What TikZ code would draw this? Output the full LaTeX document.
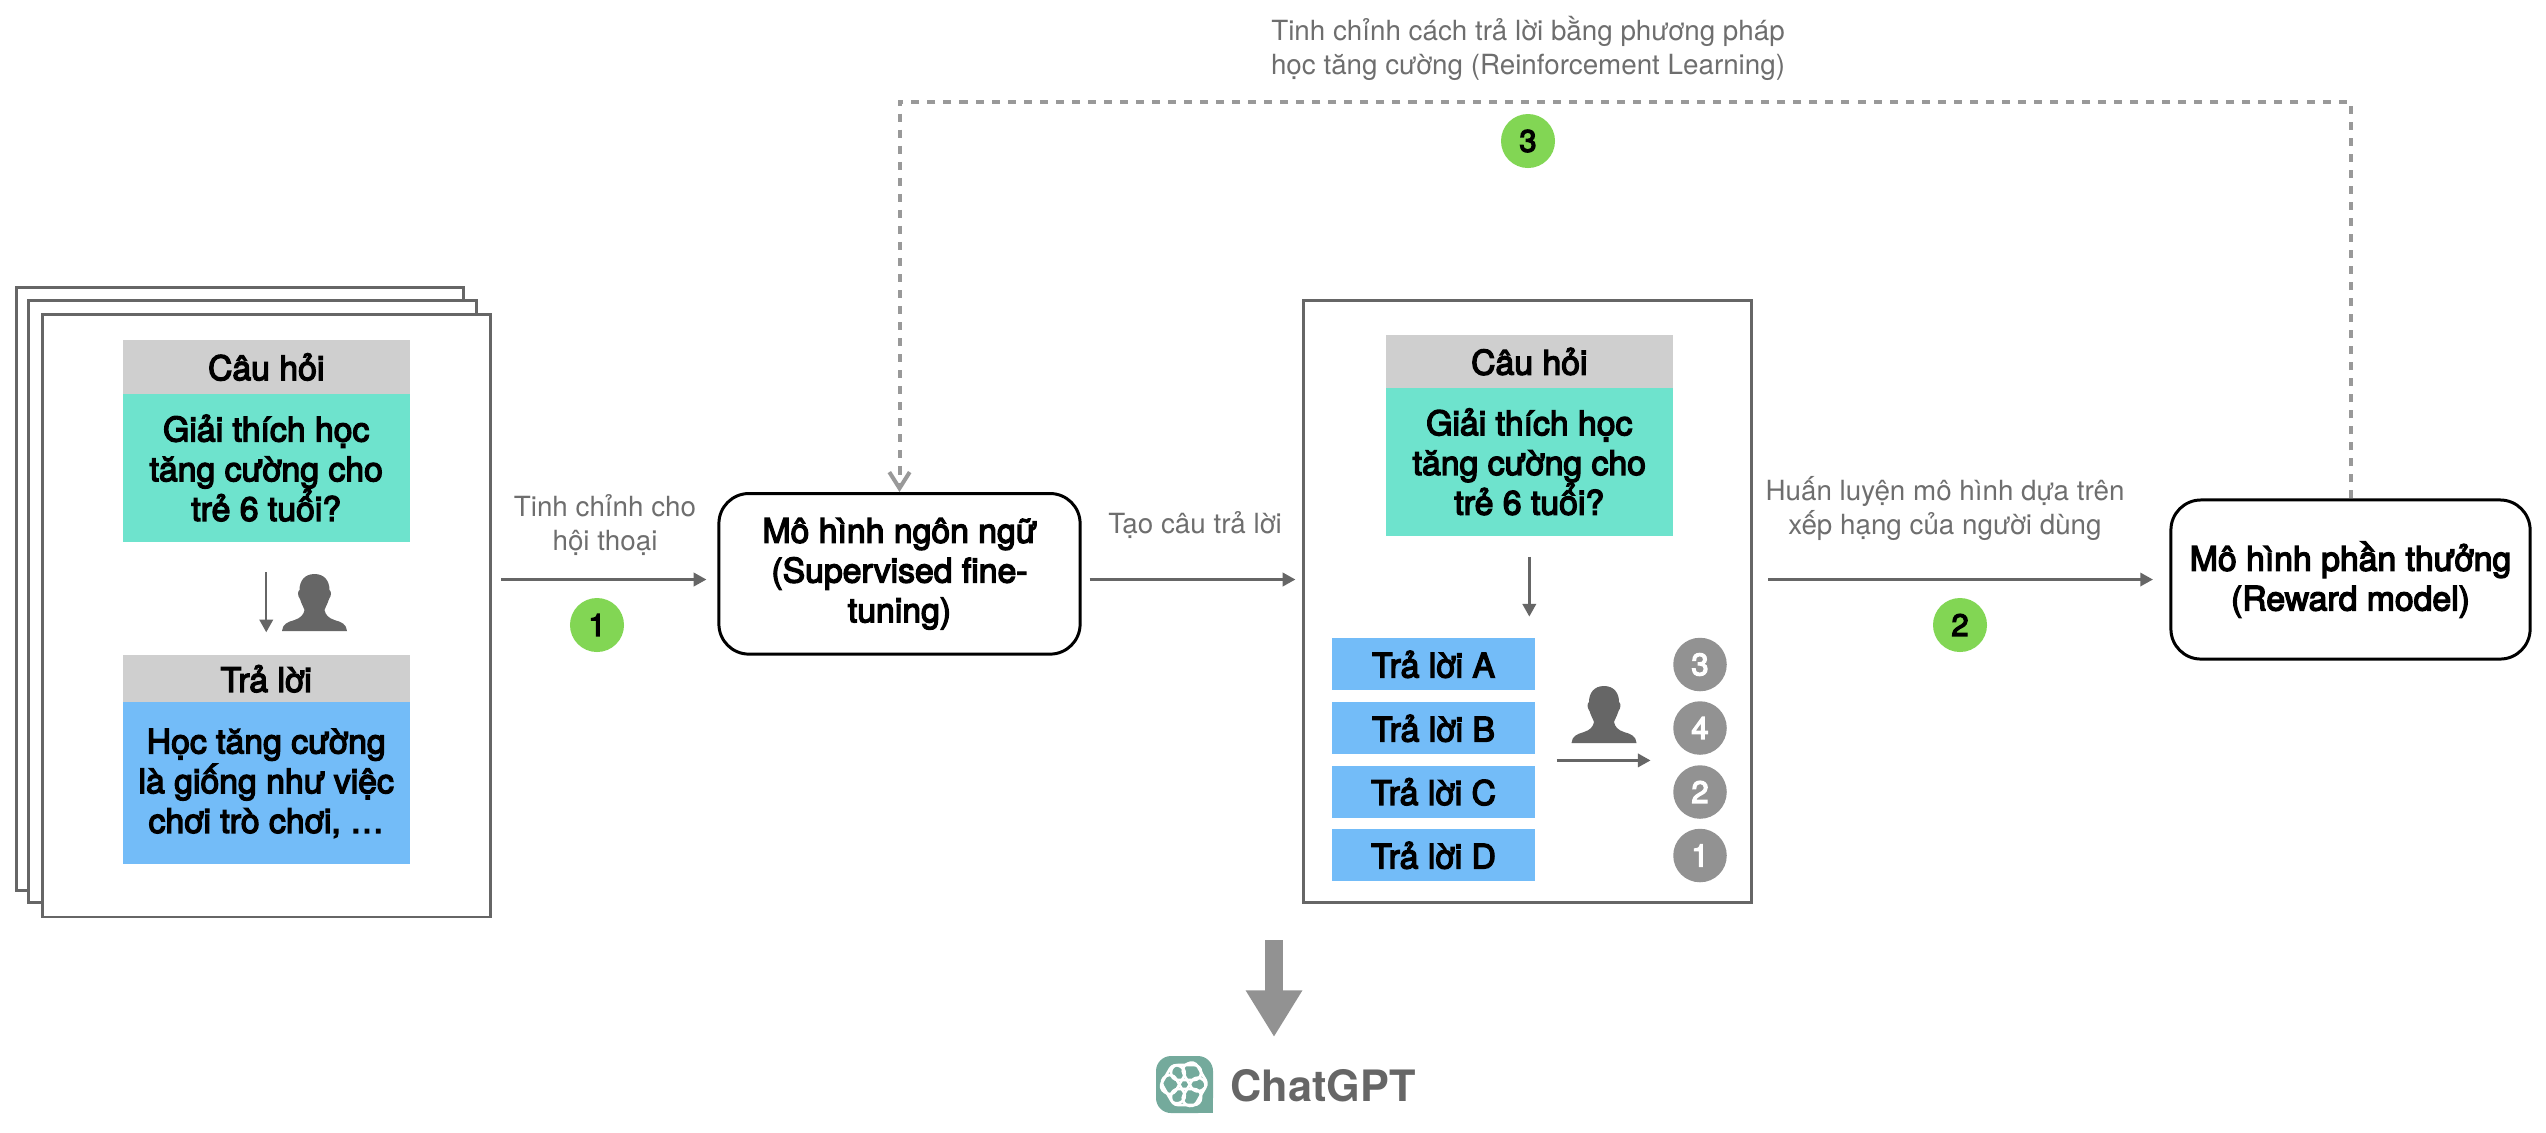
\documentclass[tikz,border=0pt]{standalone}
\usepackage{fontspec}
\setmainfont{TeX Gyre Heros}
\newfontfamily\medfont[FakeBold=4]{TeX Gyre Heros}
\usetikzlibrary{arrows.meta}
\definecolor{linegray}{HTML}{666666}
\definecolor{dashgray}{HTML}{999999}
\definecolor{labelgray}{HTML}{6E6E6E}
\definecolor{headgray}{HTML}{CFCFCF}
\definecolor{tealbox}{HTML}{6EE3CD}
\definecolor{bluebox}{HTML}{73BCF8}
\definecolor{greenmark}{HTML}{82D654}
\definecolor{graymark}{HTML}{929292}
\definecolor{gptgreen}{HTML}{74AA9C}
\tikzset{
  page/.style={draw=linegray,fill=white,line width=.85pt,minimum width=4.47cm,minimum height=6.02cm},
  boxtext/.style={font=\medfont\fontsize{9.6}{11.3}\selectfont,align=center,inner sep=0},
  qhead/.style={boxtext,fill=headgray,minimum width=2.865cm},
  qbody/.style={boxtext,fill=tealbox,minimum width=2.865cm,minimum height=1.48cm},
  abody/.style={boxtext,fill=bluebox,minimum width=2.865cm,minimum height=1.615cm},
  ans/.style={boxtext,fill=bluebox,minimum width=2.03cm,minimum height=.52cm},
  model/.style={boxtext,draw=black,fill=white,line width=.85pt,rounded corners=.3cm},
  lab/.style={font=\fontsize{7.9}{9.5}\selectfont,text=labelgray,align=center,inner sep=0},
  stepmark/.style={circle,fill=greenmark,minimum size=.54cm,inner sep=0,font=\medfont\fontsize{8.8}{10}\selectfont},
  rankmark/.style={circle,fill=graymark,text=white,minimum size=.535cm,inner sep=0,font=\medfont\fontsize{8.8}{10}\selectfont},
  flow/.style={draw=linegray,line width=.7pt,-{Triangle[length=3.6pt,width=3.8pt]}},
  person/.pic={
    \path[fill=linegray] (0,0) .. controls (10,0) and (15,7) .. (15,16)
      .. controls (17,17) and (17,22) .. (14.5,25) .. controls (13,30) and (11,33) .. (10,36)
      .. controls (11,41) and (14,44) .. (20,46) .. controls (27,48) and (32,50) .. (32.5,57)
      -- (-32.5,57) .. controls (-32,50) and (-27,48) .. (-20,46) .. controls (-14,44) and (-11,41) .. (-10,36)
      .. controls (-11,33) and (-13,30) .. (-14.5,25) .. controls (-17,22) and (-17,17) .. (-15,16)
      .. controls (-15,7) and (-10,0) .. (0,0) -- cycle;
  }
}
\begin{document}
\begin{tikzpicture}[x=.01cm,y=-.01cm]
\useasboundingbox (0,0) rectangle (2546,1132);
\coordinate (axis) at (1200,579.5);
\coordinate (top) at (1500,101.5);
\coordinate (rk) at (1600,760.4);
\coordinate (bigs) at (1274,940);
\coordinate (bigt) at (1274,1037);

\node[page] (back) at (239.75,589) {};
\node[page] (mid) at (252.5,601.75) {};
\node[page] (front) at (266.5,615.8) {};
\node[qhead,minimum height=.54cm] (qh1) at (266.25,367) {Câu hỏi};
\node[qbody] (qb1) at (266.25,468) {Giải thích học\\tăng cường cho\\trẻ 6 tuổi?};
\node[qhead,minimum height=.475cm] (ah1) at (266.25,678.75) {Trả lời};
\node[abody] (ab1) at (266.25,783.25) {Học tăng cường\\là giống như việc\\chơi trò chơi, \dots};
\pic at (314.5,574) {person};
\path[draw,flow,shorten <=.3cm,shorten >=.22cm] (qb1) ++(0,74) -- (ah1.north);

\node[model,minimum width=3.61cm,minimum height=1.605cm] (m1) at (899.5,573.8) {Mô hình ngôn ngữ\\(Supervised fine-\\tuning)};
\node[model,minimum width=3.59cm,minimum height=1.59cm] (m2) at (2350.5,579.5) {Mô hình phần thưởng\\(Reward model)};

\node[page] (frame) at (1527.5,601.5) {};
\node[qhead,minimum height=.53cm] (qh2) at (1529.3,361.5) {Câu hỏi};
\node[qbody,minimum height=1.475cm] (qb2) at (1529.3,461.75) {Giải thích học\\tăng cường cho\\trẻ 6 tuổi?};
\node[ans] (ansa) at (1433.5,664.3) {Trả lời A};
\node[ans] (ansb) at (1433.5,728.3) {Trả lời B};
\node[ans] (ansc) at (1433.5,791.8) {Trả lời C};
\node[ans] (ansd) at (1433.5,855.3) {Trả lời D};
\node[rankmark] (numa) at (1700,664.5) {3};
\node[rankmark] (numb) at (1700,728) {4};
\node[rankmark] (numc) at (1700,792) {2};
\node[rankmark] (numd) at (1700,855.5) {1};
\pic at (1604,686) {person};
\path[draw,flow,shorten <=.205cm,shorten >=.21cm] (qb2.south) -- (qb2.south |- ansa.north);
\path[draw,flow,shorten <=.21cm,shorten >=.22cm] (ansb.east |- rk) -- (numb.west |- rk);

\path[draw,flow,shorten <=.095cm,shorten >=.11cm] (front.east |- axis) -- (m1.west |- axis);
\path[draw,flow,shorten <=.08cm,shorten >=.07cm] (m1.east |- axis) -- (frame.west |- axis);
\path[draw,flow,shorten <=.155cm,shorten >=.165cm] (frame.east |- axis) -- (m2.west |- axis);
\path[draw=dashgray,line width=1.14pt,dash pattern=on 2.28pt off 2.28pt,-{Straight Barb[length=4.6pt,width=5.8pt]}] (m2.north) |- (top) -| (m1.north);

\node[lab] (lab1) at (605,525) {Tinh chỉnh cho\\hội thoại};
\node[lab] (lab2) at (1195,525) {Tạo câu trả lời};
\node[lab] (lab3) at (1945,508.5) {Huấn luyện mô hình dựa trên\\xếp hạng của người dùng};
\node[lab] (lab4) at (1528,48.5) {Tinh chỉnh cách trả lời bằng phương pháp\\học tăng cường (Reinforcement Learning)};
\node[stepmark] (s1) at (597,625) {1};
\node[stepmark] (s2) at (1960,625) {2};
\node[stepmark] (s3) at (1528,141) {3};

\path[draw=graymark,line width=5.1pt,-{Triangle[length=13.3pt,width=15.2pt]}] (bigs) -- (bigt);
\coordinate (logo) at (1184.5,1084.5);
\path[fill=gptgreen,rounded corners=.15cm] (1156,1056) -- (1213,1056) -- (1213,1113) -- (1156,1113) -- cycle;
\path[fill=gptgreen] (1195,1095) rectangle (1213,1113);
\foreach \a in {0,120,240}
  \path[draw=white,line width=.75pt,rounded corners=.07cm,rotate around={\a:(logo)}] (1171,1089) rectangle (1201,1105);
\foreach \a in {60,180,300}
  \path[draw=white,line width=.75pt,rounded corners=.07cm,rotate around={\a:(logo)}] (1168,1089) rectangle (1198,1104);
\node[font=\bfseries\fontsize{12.3}{14}\selectfont,text=linegray,inner sep=0] (gpt) at (1323,1085.5) {ChatGPT};
\end{tikzpicture}
\end{document}
